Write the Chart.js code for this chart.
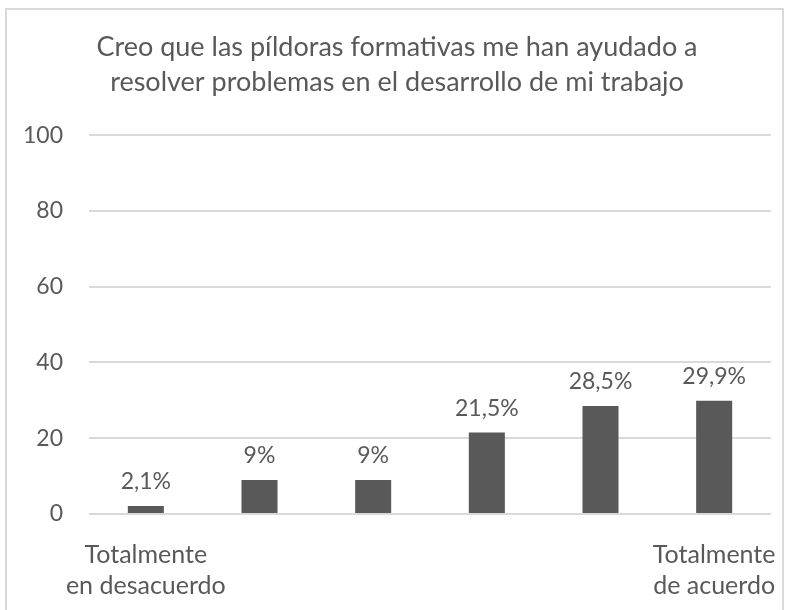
<!DOCTYPE html>
<html>
<head>
<meta charset="utf-8">
<script src="https://cdn.jsdelivr.net/npm/chart.js@4"></script>
<style>
  html, body { margin: 0; padding: 0; background: #fff; }
  #wrap { position: relative; width: 788px; height: 610px; }
  #frame { position: absolute; left: 5px; top: 8px; width: 779px; height: 620px; border: 2px solid #d9d9d9; box-sizing: border-box; }
</style>
</head>
<body>
<div id="wrap">
  <div id="frame"></div>
  <canvas id="grafico" width="788" height="610"></canvas>
</div>
<script>
const categorias = [["Totalmente", "en desacuerdo"], "", "", "", "", ["Totalmente", "de acuerdo"]];
const porcentajes = [2.1, 9, 9, 21.5, 28.5, 29.9];
const etiquetas = ["2,1%", "9%", "9%", "21,5%", "28,5%", "29,9%"];
const titulo = ["Creo que las píldoras formativas me han ayudado a", "resolver problemas en el desarrollo de mi trabajo"];

const gris = "#595959";
const fuente = "Lato";

// etiquetas de datos encima de cada barra
const etiquetasPlugin = {
  id: "etiquetas",
  afterDatasetsDraw(chart) {
    const ctx = chart.ctx;
    const meta = chart.getDatasetMeta(0);
    ctx.save();
    ctx.font = "23px " + fuente;
    ctx.fillStyle = gris;
    ctx.textAlign = "center";
    ctx.textBaseline = "alphabetic";
    meta.data.forEach((bar, i) => {
      ctx.fillText(etiquetas[i], bar.x, bar.y - 17);
    });
    ctx.restore();
  }
};

Chart.defaults.font.family = fuente;
Chart.defaults.color = gris;

new Chart(document.getElementById("grafico"), {
  type: "bar",
  data: {
    labels: categorias,
    datasets: [{
      data: porcentajes,
      backgroundColor: gris,
      barPercentage: 0.317,
      categoryPercentage: 1
    }]
  },
  options: {
    responsive: false,
    animation: false,
    layout: { padding: { top: 20, left: 23, right: 17, bottom: 0 } },
    plugins: {
      legend: { display: false },
      tooltip: { enabled: false },
      title: {
        display: true,
        text: titulo,
        color: gris,
        font: { size: 27, weight: "normal", lineHeight: 1.3 },
        padding: { top: 10, bottom: 35 }
      }
    },
    scales: {
      x: {
        grid: { display: false },
        border: { display: false },
        ticks: { color: gris, font: { size: 25, lineHeight: 1.22 }, maxRotation: 0, autoSkip: false, padding: 18 },
        afterFit(scale) {
          scale.height = 96;
          // las etiquetas largas pueden salir del área, como en el original
          scale.paddingLeft = 0;
          scale.paddingRight = 0;
        }
      },
      y: {
        min: 0,
        max: 100,
        grid: { color: "#d9d9d9", lineWidth: 2, drawTicks: false },
        border: { display: false },
        ticks: { stepSize: 20, color: gris, font: { size: 23 }, padding: 26 },
        afterFit(scale) { scale.width = 66; }
      }
    }
  },
  plugins: [etiquetasPlugin]
});
</script>
</body>
</html>
